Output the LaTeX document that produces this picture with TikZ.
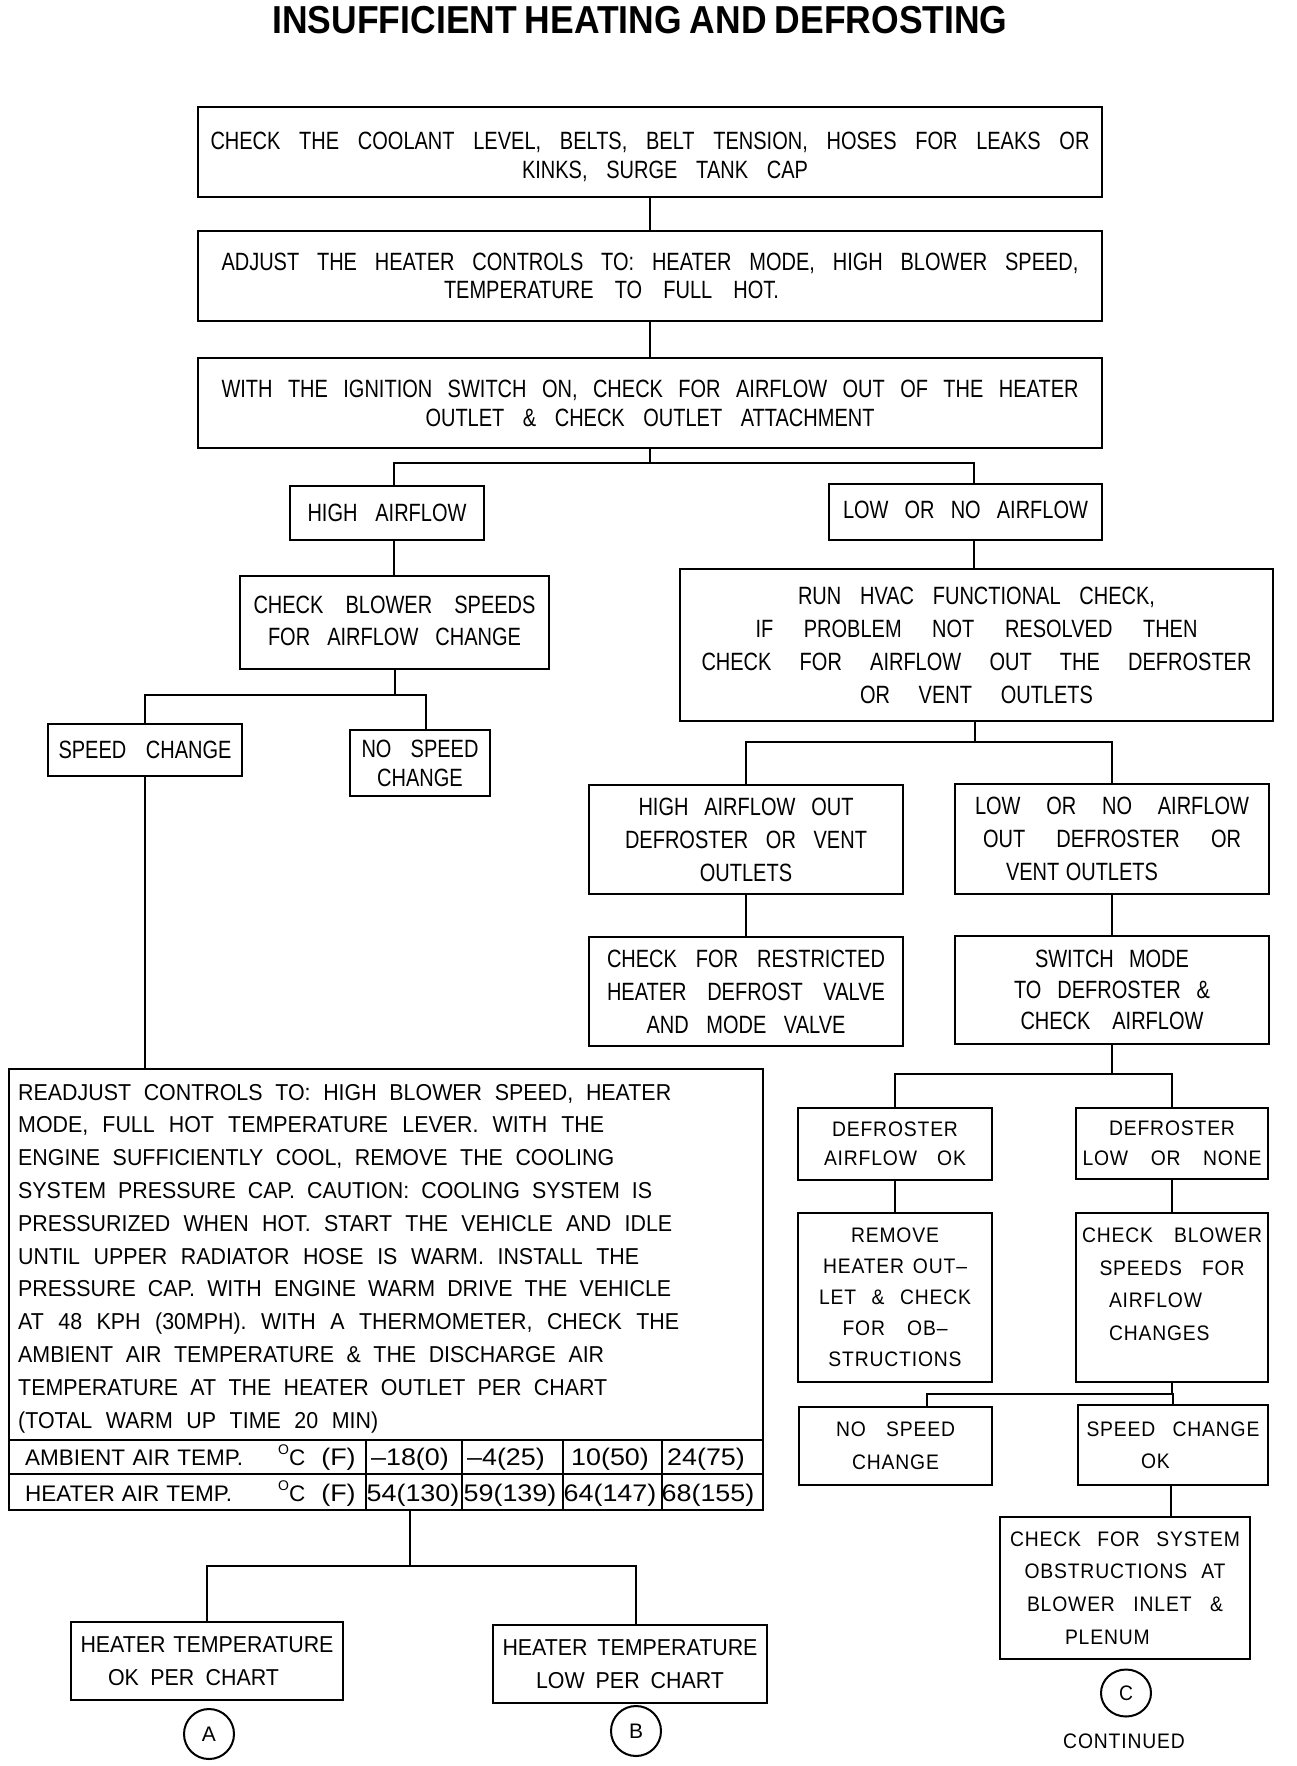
\documentclass[tikz,border=0pt]{standalone}
\usepackage{fontspec}
\setmainfont{Liberation Sans}
\newfontfamily\narrowfont[FakeStretch=0.8]{Liberation Sans}
\newfontfamily\widefont[FakeStretch=0.92,LetterSpace=4]{Liberation Sans}
\newfontfamily\titlefont[FakeStretch=0.91]{Liberation Sans}
\newfontfamily\bodyfont[FakeStretch=0.93]{Liberation Sans}
\newfontfamily\tabfont[FakeStretch=1.12]{Liberation Sans}
\usetikzlibrary{fit,shapes.geometric}
\newcommand\lwd[2]{\makebox[#1pt][s]{#2}}
\newcommand\degcf{\raisebox{0.45em}{\fontsize{14}{14}\selectfont O}C\hspace{16pt}{\tabfont\fontsize{24}{24}\selectfont(F)}}
\begin{document}
\begin{tikzpicture}[x=1pt,y=-1pt,
  box/.style={draw,line width=2.4pt,inner sep=0pt},
  cn/.style={line width=2pt},
  tl/.style={line width=2pt},
  nt/.style={font=\narrowfont\fontsize{25}{#1}\selectfont,align=center},
  wt/.style={font=\widefont\fontsize{21}{#1}\selectfont,align=center},
  rt/.style={font=\bodyfont\fontsize{23}{#1}\selectfont,align=center},
  tb/.style={font=\fontsize{22.5}{22.5}\selectfont,inner sep=0pt},
  tv/.style={font=\tabfont\fontsize{24}{24}\selectfont,inner sep=0pt,anchor=base},
  circ/.style={draw,circle,line width=2pt,minimum size=50pt,inner sep=0pt}]
\useasboundingbox (0,0) rectangle (1296,1766);
% title
\node[font=\titlefont\bfseries\fontsize{39}{39}\selectfont,inner sep=0pt] (title) at (640,20) {\lwd{735}{INSUFFICIENT HEATING AND DEFROSTING}};
% top boxes
\node[box,fit={(198,107) (1102,197)}] (b1) {};
\node[nt=29,yshift=-5pt] (b1t) at (b1.center) {\lwd{879}{CHECK THE COOLANT LEVEL, BELTS, BELT TENSION, HOSES FOR LEAKS OR}\\\makebox[316pt][r]{\lwd{286}{KINKS, SURGE TANK CAP}}};
\node[box,fit={(198,231) (1102,321)}] (b2) {};
\node[nt=28] (b2t) at (b2.center) {\lwd{857}{ADJUST THE HEATER CONTROLS TO: HEATER MODE, HIGH BLOWER SPEED,}\\\makebox[412pt][l]{\lwd{335}{TEMPERATURE TO FULL HOT.}}};
\node[box,fit={(198,358) (1102,448)}] (b3) {};
\node[nt=29] (b3t) at (b3.center) {\lwd{857}{WITH THE IGNITION SWITCH ON, CHECK FOR AIRFLOW OUT OF THE HEATER}\\\lwd{449}{OUTLET \& CHECK OUTLET ATTACHMENT}};
\node[box,fit={(290,486) (484,540)}] (hi) {};
\node[nt=29] (hit) at (hi.center) {\lwd{159}{HIGH AIRFLOW}};
\node[box,fit={(829,484) (1102,540)}] (lo) {};
\node[nt=29,yshift=2pt] (lot) at (lo.center) {\lwd{245}{LOW OR NO AIRFLOW}};
\node[box,fit={(240,576) (549,669)}] (cb) {};
\node[nt=32,yshift=2pt] (cbt) at (cb.center) {\lwd{282}{CHECK BLOWER SPEEDS}\\\lwd{253}{FOR AIRFLOW CHANGE}};
\node[box,fit={(680,569) (1273,721)}] (hv) {};
\node[nt=33] (hvt) at (hv.center) {\lwd{357}{RUN HVAC FUNCTIONAL CHECK,}\\\lwd{442}{IF PROBLEM NOT RESOLVED THEN}\\\lwd{550}{CHECK FOR AIRFLOW OUT THE DEFROSTER}\\\lwd{233}{OR VENT OUTLETS}};
\node[box,fit={(48,724) (242,776)}] (sc) {};
\node[nt=29] (sct) at (sc.center) {\lwd{173}{SPEED CHANGE}};
\node[box,fit={(350,730) (490,796)}] (ns) {};
\node[nt=29] (nst) at (ns.center) {\lwd{117}{NO SPEED}\\CHANGE};
\node[box,fit={(589,785) (903,894)}] (ho) {};
\node[nt=33] (hot) at (ho.center) {\lwd{215}{HIGH AIRFLOW OUT}\\\lwd{242}{DEFROSTER OR VENT}\\OUTLETS};
\node[box,fit={(955,784) (1269,894)}] (lno) {};
\node[nt=33] (lnot) at (lno.center) {\lwd{274}{LOW OR NO AIRFLOW}\\\lwd{258}{OUT DEFROSTER OR}\\\makebox[212pt][l]{\lwd{152}{VENT OUTLETS}}};
\node[box,fit={(589,937) (903,1046)}] (cr) {};
\node[nt=33] (crt) at (cr.center) {\lwd{278}{CHECK FOR RESTRICTED}\\\lwd{278}{HEATER DEFROST VALVE}\\\lwd{199}{AND MODE VALVE}};
\node[box,fit={(955,936) (1269,1044)}] (sw) {};
\node[nt=31] (swt) at (sw.center) {\lwd{154}{SWITCH MODE}\\\lwd{196}{TO DEFROSTER \&}\\\lwd{183}{CHECK AIRFLOW}};
% lower right boxes
\node[box,fit={(798,1108) (992,1180)}] (dok) {};
\node[wt=29] (dokt) at (dok.center) {DEFROSTER\\\lwd{142}{AIRFLOW OK}};
\node[box,fit={(1076,1108) (1268,1179)}] (dlo) {};
\node[wt=30] (dlot) at (dlo.center) {DEFROSTER\\\lwd{179}{LOW OR NONE}};
\node[box,fit={(798,1213) (992,1382)}] (rm) {};
\node[wt=31] (rmt) at (rm.center) {REMOVE\\\lwd{144}{HEATER OUT–}\\\lwd{152}{LET \& CHECK}\\\lwd{105}{FOR OB–}\\STRUCTIONS};
\node[box,fit={(1076,1213) (1268,1382)}] (cb2) {};
\node[wt=32.5,yshift=13pt] (cb2t) at (cb2.center) {\lwd{180}{CHECK BLOWER}\\\lwd{145}{SPEEDS FOR}\\\makebox[126pt][l]{AIRFLOW}\\\makebox[126pt][l]{CHANGES}};
\node[box,fit={(799,1407) (992,1485)}] (ns2) {};
\node[wt=33] (ns2t) at (ns2.center) {\lwd{119}{NO SPEED}\\CHANGE};
\node[box,fit={(1078,1405) (1268,1485)}] (sok) {};
\node[wt=32] (sokt) at (sok.center) {\lwd{173}{SPEED CHANGE}\\\makebox[64pt][l]{OK}};
\node[box,fit={(1000,1517) (1250,1659)}] (sys) {};
\node[wt=32.7] (syst) at (sys.center) {\lwd{230}{CHECK FOR SYSTEM}\\\lwd{201}{OBSTRUCTIONS AT}\\\lwd{196}{BLOWER INLET \&}\\\makebox[120pt][l]{PLENUM}};
\node[draw,ellipse,line width=2pt,inner sep=0pt,font=\widefont\fontsize{21}{21}\selectfont,minimum width=50pt,minimum height=47pt] (cc) at (1126,1693) {C};
\node[font=\widefont\fontsize{21}{21}\selectfont,inner sep=0pt] (cont) at (1124,1741) {CONTINUED};
% readjust box
\node[box,fit={(9,1069) (763,1510)}] (rd) {};
\foreach \ww/\tx [count=\i] in {
653/{READJUST CONTROLS TO: HIGH BLOWER SPEED, HEATER},
586/{MODE, FULL HOT TEMPERATURE LEVER. WITH THE},
596/{ENGINE SUFFICIENTLY COOL, REMOVE THE COOLING},
634/{SYSTEM PRESSURE CAP. CAUTION: COOLING SYSTEM IS},
654/{PRESSURIZED WHEN HOT. START THE VEHICLE AND IDLE},
621/{UNTIL UPPER RADIATOR HOSE IS WARM. INSTALL THE},
653/{PRESSURE CAP. WITH ENGINE WARM DRIVE THE VEHICLE},
661/{AT 48 KPH (30MPH). WITH A THERMOMETER, CHECK THE},
586/{AMBIENT AIR TEMPERATURE \& THE DISCHARGE AIR},
589/{TEMPERATURE AT THE HEATER OUTLET PER CHART},
360/{(TOTAL WARM UP TIME 20 MIN)}}
  \node[rt=20,anchor=base west,inner sep=0pt] (rl\i) at (18,{1100+(\i-1)*32.8}) {\lwd{\ww}{\tx}};
% table
\draw[tl] (rd.west |- 0,1440) -- (rd.east |- 0,1440);
\draw[tl] (rd.west |- 0,1474) -- (rd.east |- 0,1474);
\foreach \x in {366,462,563,662} \draw[tl] (\x,1440) -- (\x,0 |- rd.south);
\node[tb,anchor=base west] (ta1) at (25,1465) {\lwd{218}{AMBIENT AIR TEMP.}};
\node[tb,anchor=base west] (ta2) at (278,1465) {\degcf};
\node[tb,anchor=base west] (th1) at (25,1501) {\lwd{207}{HEATER AIR TEMP.}};
\node[tb,anchor=base west] (th2) at (278,1501) {\degcf};
\foreach \x/\v [count=\i] in {410/–18(0),506/–4(25),610/10(50),706/24(75)}
  \node[tv] (va\i) at (\x,1465) {\v};
\foreach \x/\v [count=\i] in {413/54(130),510/59(139),610/64(147),708/68(155)}
  \node[tv] (vh\i) at (\x,1501) {\v};
\node[box,fit={(71,1622) (343,1700)}] (hok) {};
\node[rt=33] (hokt) at (hok.center) {\lwd{253}{HEATER TEMPERATURE}\\\makebox[198pt][l]{\lwd{171}{OK PER CHART}}};
\node[box,fit={(493,1625) (767,1703)}] (hlo) {};
\node[rt=33] (hlot) at (hlo.center) {\lwd{255}{HEATER TEMPERATURE}\\\lwd{188}{LOW PER CHART}};
\node[circ,font=\fontsize{21}{21}\selectfont] (ca) at (209,1734) {A};
\node[circ,font=\fontsize{21}{21}\selectfont] (cbb) at (636,1731) {B};
% connectors
\draw[cn] (b1.south) -- (b2.north);
\draw[cn] (b2.south) -- (b3.north);
\draw[cn] (b3.south) -- ++(0,14) coordinate (s3) -| ([xshift=7pt]hi.north);
\draw[cn] (s3) -| ([xshift=8pt]lo.north);
\draw[cn] ([xshift=7pt]hi.south) -- ([xshift=7pt]hi.south |- cb.north);
\draw[cn] ([xshift=8pt]lo.south) -- ([xshift=8pt]lo.south |- hv.north);
\draw[cn] (cb.south) -- ++(0,25) coordinate (s4) -| (sc.north);
\draw[cn] (s4) -| ([xshift=6pt]ns.north);
\draw[cn] (sc.south) -- (sc.south |- rd.north);
\draw[cn] ([xshift=-2pt]hv.south) -- ++(0,20) coordinate (s5) -| (ho.north);
\draw[cn] (s5) -| (lno.north);
\draw[cn] (ho.south) -- (ho.south |- cr.north);
\draw[cn] (lno.south) -- (lno.south |- sw.north);
\draw[cn] (sw.south) -- ++(0,29) coordinate (s6) -| (dok.north);
\draw[cn] (s6) -| (dlo.north);
\draw[cn] (dok.south) -- (dok.south |- rm.north);
\draw[cn] (dlo.south) -- (dlo.south |- cb2.north);
\draw[cn] (cb2.south) -- ++(0,11) coordinate (s7) -| ([xshift=31pt]ns2.north);
\draw[cn] (s7) -| (sok.north);
\draw[cn] ([xshift=-2pt]sok.south) -- ([xshift=-2pt]sok.south |- sys.north);
\draw[cn] ([xshift=24pt]rd.south) -- ++(0,55) coordinate (s8) -| (hok.north);
\draw[cn] (s8) -| ([xshift=6pt]hlo.north);
\end{tikzpicture}
\end{document}
